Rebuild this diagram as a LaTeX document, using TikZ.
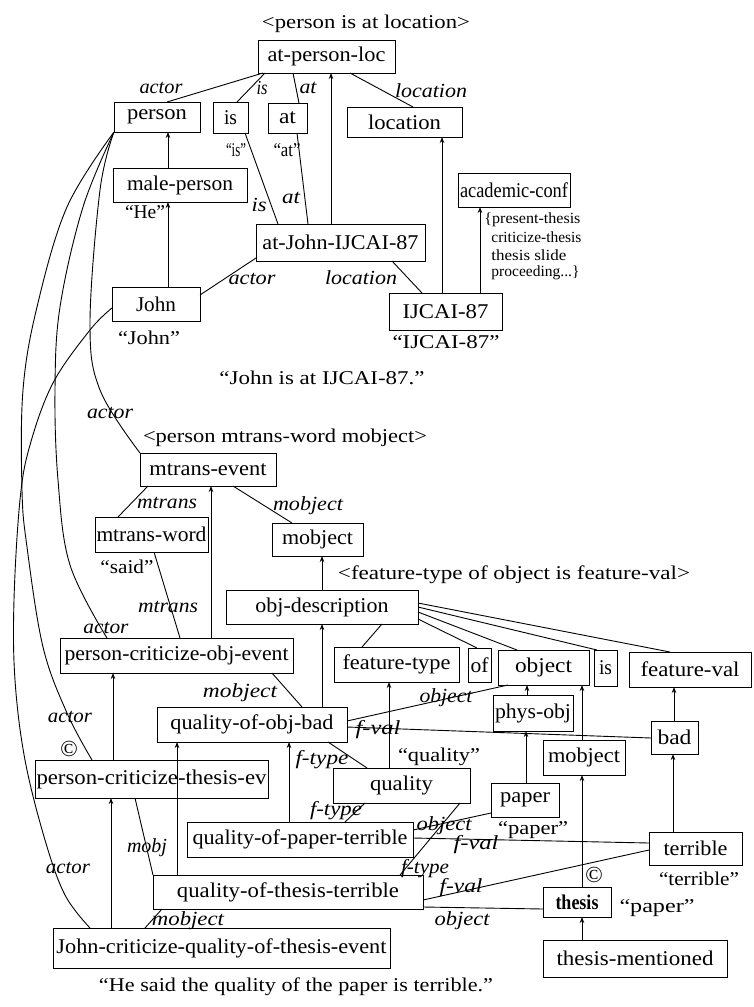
\documentclass[tikz,border=0pt]{standalone}
\usepackage{graphicx}
\usepackage{fontspec}
\setmainfont{Liberation Serif}
\usetikzlibrary{arrows.meta}
\newcommand\fitw[2]{\resizebox{#1pt}{\height}{#2}}
\begin{document}
\begin{tikzpicture}[x=1pt,y=-1pt,line width=0.9pt,
  bx/.style={draw,inner sep=0pt,outer sep=0pt,font=\fontsize{21}{24}\selectfont},
  lb/.style={inner sep=0pt,font=\fontsize{20}{23}\selectfont\itshape},
  qt/.style={inner sep=0pt,font=\fontsize{19.5}{22}\selectfont},
  sm/.style={inner sep=0pt,font=\fontsize{15.5}{17}\selectfont},
  cp/.style={inner sep=0pt,font=\fontsize{23}{25}\selectfont},
  ar/.style={-{Stealth[length=6pt,width=4.5pt]}},
  crv/.style={smooth,tension=0.6}]
\useasboundingbox (0,0) rectangle (753,1007);
% boxes
\node[bx,minimum width=137pt,minimum height=33pt] (apl) at (326.5,56.5) {\fitw{118}{at-person-loc}};
\node[bx,minimum width=86pt,minimum height=30pt] (person) at (157,117) {\fitw{60}{person}};
\node[bx,minimum width=35pt,minimum height=31pt] (isb) at (230.5,117.5) {\fitw{13}{is}};
\node[bx,minimum width=39pt,minimum height=30pt] (atb) at (287.5,118) {\fitw{17}{at}};
\node[bx,minimum width=115pt,minimum height=30pt] (loc) at (404.5,122) {\fitw{73}{location}};
\node[bx,minimum width=134pt,minimum height=34pt] (male) at (180,185) {\fitw{106}{male-person}};
\node[bx,minimum width=169pt,minimum height=37pt] (ajI) at (340.5,242.5) {\fitw{156}{at-John-IJCAI-87}};
\node[bx,minimum width=88pt,minimum height=34pt] (john) at (156,304) {\fitw{40}{John}};
\node[bx,minimum width=113pt,minimum height=37pt] (ijcai) at (445.5,311.5) {\fitw{86}{IJCAI-87}};
\node[bx,minimum width=112pt,minimum height=34pt] (acad) at (514,190) {\fitw{108}{academic-conf}};
\node[bx,minimum width=136pt,minimum height=33pt] (mte) at (208,469.5) {\fitw{117}{mtrans-event}};
\node[bx,minimum width=113pt,minimum height=35pt] (mtw) at (151.5,534.5) {\fitw{110}{mtrans-word}};
\node[bx,minimum width=91pt,minimum height=33pt] (mobja) at (317.5,539.5) {\fitw{71}{mobject}};
\node[bx,minimum width=192pt,minimum height=34pt] (objd) at (322,607) {\fitw{133}{obj-description}};
\node[bx,minimum width=233pt,minimum height=35pt] (pcoe) at (176.5,655.5) {\fitw{224}{person-criticize-obj-event}};
\node[bx,minimum width=125pt,minimum height=35pt] (ftype) at (396.5,664.5) {\fitw{108}{feature-type}};
\node[bx,minimum width=23pt,minimum height=34pt] (ofb) at (479.5,665) {\fitw{18}{of}};
\node[bx,minimum width=91pt,minimum height=35pt] (object) at (543.5,667.5) {\fitw{57}{object}};
\node[bx,minimum width=23pt,minimum height=36pt] (isc) at (605.5,668) {\fitw{13}{is}};
\node[bx,minimum width=122pt,minimum height=35pt] (fval) at (690,669.5) {\fitw{99}{feature-val}};
\node[bx,minimum width=190pt,minimum height=35pt] (qob) at (252,724.5) {\fitw{163}{quality-of-obj-bad}};
\node[bx,minimum width=80pt,minimum height=36pt] (phys) at (533,713) {\fitw{76}{phys-obj}};
\node[bx,minimum width=47pt,minimum height=33pt] (bad) at (674.5,737.5) {\fitw{34}{bad}};
\node[bx,minimum width=82pt,minimum height=35pt] (mobjb) at (584,757.5) {\fitw{72}{mobject}};
\node[bx,minimum width=233pt,minimum height=38pt] (pcte) at (151.5,779) {\fitw{230}{person-criticize-thesis-ev}};
\node[bx,minimum width=137pt,minimum height=35pt] (quality) at (401.5,785.5) {\fitw{63}{quality}};
\node[bx,minimum width=68pt,minimum height=34pt] (paper) at (525,800) {\fitw{50}{paper}};
\node[bx,minimum width=226pt,minimum height=35pt] (qopt) at (300,839.5) {\fitw{215}{quality-of-paper-terrible}};
\node[bx,minimum width=93pt,minimum height=33pt] (terrible) at (695.5,848.5) {\fitw{64}{terrible}};
\node[bx,minimum width=270pt,minimum height=34pt] (qott) at (288,892) {\fitw{222}{quality-of-thesis-terrible}};
\node[bx,minimum width=68pt,minimum height=30pt] (thesis) at (577,902) {\fitw{43}{\bfseries thesis}};
\node[bx,minimum width=184pt,minimum height=37pt] (tm) at (635,958.5) {\fitw{157}{thesis-mentioned}};
\node[bx,minimum width=337pt,minimum height=40pt] (jcq) at (221.5,948) {\fitw{330}{John-criticize-quality-of-thesis-event}};
% plain texts
\node[qt] (t1) at (366,24) {\fitw{208}{<person is at location>}};
\node[qt] (q1) at (236,150) {\fitw{20}{“is”}};
\node[qt] (q2) at (287,150) {\fitw{27}{“at”}};
\node[qt] (q3) at (145,212) {\fitw{40}{“He”}};
\node[qt] (q4) at (149,338) {\fitw{62}{“John”}};
\node[qt] (q5) at (446,342) {\fitw{107}{“IJCAI-87”}};
\node[qt] (t2) at (322,378) {\fitw{205}{“John is at IJCAI-87.”}};
\node[qt] (t3) at (285,438) {\fitw{284}{<person mtrans-word mobject>}};
\node[qt] (q6) at (127,567) {\fitw{53}{“said”}};
\node[qt] (t4) at (514,575) {\fitw{352}{<feature-type of object is feature-val>}};
\node[qt] (q7) at (439,757) {\fitw{82}{“quality”}};
\node[qt] (q8) at (533,830) {\fitw{70}{“paper”}};
\node[qt] (q9) at (699,879) {\fitw{80}{“terrible”}};
\node[qt] (q10) at (657,908) {\fitw{75}{“paper”}};
\node[cp] (c1) at (69,749) {©};
\node[cp] (c2) at (594,875) {©};
\node[qt] (t5) at (296,987) {\fitw{394}{“He said the quality of the paper is terrible.”}};
\node[sm,anchor=west] (al1) at (484,220) {\fitw{96}{\{present-thesis}};
\node[sm,anchor=west] (al2) at (491,237.5) {\fitw{90}{criticize-thesis}};
\node[sm,anchor=west] (al3) at (491,255) {\fitw{75}{thesis slide}};
\node[sm,anchor=west] (al4) at (491,272.5) {\fitw{88}{proceeding...\}}};
% edge labels
\node[lb] (lb1) at (161,88) {\fitw{43}{actor}};
\node[lb] (lb2) at (262,88) {\fitw{11}{is}};
\node[lb] (lb3) at (308,88) {\fitw{17}{at}};
\node[lb] (lb4) at (431,91) {\fitw{72}{location}};
\node[lb] (lb5) at (259,205) {\fitw{15}{is}};
\node[lb] (lb6) at (291,198) {\fitw{18}{at}};
\node[lb] (lb7) at (252,279) {\fitw{47}{actor}};
\node[lb] (lb8) at (361,278) {\fitw{72}{location}};
\node[lb] (lb9) at (110,413) {\fitw{46}{actor}};
\node[lb] (lb10) at (167,503) {\fitw{60}{mtrans}};
\node[lb] (lb11) at (308,506) {\fitw{70}{mobject}};
\node[lb] (lb12) at (168,607) {\fitw{60}{mtrans}};
\node[lb] (lb13) at (106,628) {\fitw{45}{actor}};
\node[lb] (lb14) at (240,693) {\fitw{74}{mobject}};
\node[lb] (lb15) at (70,717) {\fitw{44}{actor}};
\node[lb] (lb16) at (446,698) {\fitw{53}{object}};
\node[lb] (lb17) at (378,730) {\fitw{45}{f-val}};
\node[lb] (lb18) at (322,760) {\fitw{53}{f-type}};
\node[lb] (lb19) at (336,811) {\fitw{52}{f-type}};
\node[lb] (lb20) at (444,826) {\fitw{55}{object}};
\node[lb] (lb21) at (476,845) {\fitw{45}{f-val}};
\node[lb] (lb22) at (147,848) {\fitw{40}{mobj}};
\node[lb] (lb23) at (68,868) {\fitw{44}{actor}};
\node[lb] (lb24) at (425,869) {\fitw{48}{f-type}};
\node[lb] (lb25) at (461,888) {\fitw{43}{f-val}};
\node[lb] (lb26) at (462,921) {\fitw{55}{object}};
\node[lb] (lb27) at (188,921) {\fitw{72}{mobject}};
% plain edges
\draw ([xshift=5pt]apl.south west) -- ([xshift=53pt]person.north west);
\draw ([xshift=7pt]apl.south west) -- ([xshift=24pt]isb.north west);
\draw ([xshift=35pt]apl.south west) -- ([xshift=31pt]atb.north west);
\draw ([xshift=92pt]apl.south west) -- ([xshift=66pt]loc.north west);
\draw ([xshift=32pt]isb.south west) -- ([xshift=22pt]ajI.north west);
\draw ([xshift=29pt]atb.south west) -- ([xshift=52pt]ajI.north west);
\draw ([yshift=-34pt]ajI.north west) -- ([yshift=-8pt]john.north east);
\draw ([xshift=136pt]ajI.south west) -- ([xshift=33pt]ijcai.north west);
\draw ([xshift=8pt]mte.south west) -- ([xshift=23pt]mtw.north west);
\draw ([xshift=93pt]mte.south west) -- ([xshift=20pt]mobja.north west);
\draw ([xshift=59pt]mtw.south west) -- ([xshift=120pt]pcoe.north west);
\draw ([xshift=156pt]objd.south west) -- ([xshift=28pt]ftype.north west);
\draw ([yshift=-29pt]objd.north east) -- ([xshift=9pt]ofb.north west);
\draw ([yshift=-22pt]objd.north east) -- ([xshift=19pt]object.north west);
\draw ([yshift=-17pt]objd.north east) -- ([xshift=3pt]isc.north west);
\draw ([yshift=-13pt]objd.north east) -- ([xshift=41pt]fval.north west);
\draw ([xshift=212pt]pcoe.south west) -- ([xshift=145pt]qob.north west);
\draw ([yshift=-14pt]qob.north east) -- ([xshift=10pt]object.south west);
\draw ([yshift=-20pt]qob.north east) -- ([yshift=-17pt]bad.north west);
\draw ([xshift=171pt]qob.south west) -- ([xshift=34pt]quality.north west);
\draw ([xshift=100pt]pcte.south west) -- (qott.north west);
\draw ([xshift=32pt]quality.south west) -- ([xshift=158pt]qopt.north west);
\draw ([yshift=-8pt]qopt.north east) -- ([yshift=-30pt]paper.north west);
\draw ([yshift=-16pt]qopt.north east) -- ([yshift=-11pt]terrible.north west);
\draw ([xshift=127pt]quality.south west) -- ([xshift=247pt]qott.north west);
\draw ([yshift=-25pt]qott.north east) -- ([yshift=-18pt]terrible.north west);
\draw ([yshift=-32pt]qott.north east) -- ([yshift=-22pt]thesis.north west);
\draw ([xshift=92pt]jcq.north west) -- ([xshift=9pt]qott.south west);
% arrows
\draw[ar] ([xshift=75pt]ajI.north west) -- ([xshift=73pt]apl.south west);
\draw[ar] ([xshift=55pt]male.north west) -- ([xshift=54pt]person.south west);
\draw[ar] ([xshift=56pt]john.north west) -- ([xshift=55pt]male.south west);
\draw[ar] ([xshift=53pt]ijcai.north west) -- ([xshift=95pt]loc.south west);
\draw[ar] ([xshift=91pt]ijcai.north west) -- ([xshift=22pt]acad.south west);
\draw[ar] ([xshift=151pt]pcoe.north west) -- ([xshift=71pt]mte.south west);
\draw[ar] ([xshift=96pt]objd.north west) -- ([xshift=50pt]mobja.south west);
\draw[ar] ([xshift=165pt]qob.north west) -- ([xshift=96pt]objd.south west);
\draw[ar] ([xshift=78pt]pcte.north west) -- ([xshift=53pt]pcoe.south west);
\draw[ar] ([xshift=58pt]jcq.north west) -- ([xshift=76pt]pcte.south west);
\draw[ar] ([xshift=24pt]qott.north west) -- ([xshift=20pt]qob.south west);
\draw[ar] ([xshift=102pt]qopt.north west) -- ([xshift=132pt]qob.south west);
\draw[ar] ([xshift=56pt]quality.north west) -- ([xshift=55pt]ftype.south west);
\draw[ar] ([xshift=34pt]phys.north west) -- ([xshift=29pt]object.south west);
\draw[ar] ([xshift=39pt]mobjb.north west) -- ([xshift=84pt]object.south west);
\draw[ar] ([xshift=35pt]paper.north west) -- ([xshift=33pt]phys.south west);
\draw[ar] ([xshift=23pt]bad.north west) -- ([xshift=45pt]fval.south west);
\draw[ar] ([xshift=24pt]terrible.north west) -- ([xshift=22pt]bad.south west);
\draw[ar] ([xshift=39pt]thesis.north west) -- ([xshift=39pt]mobjb.south west);
\draw[ar] ([xshift=39pt]tm.north west) -- ([xshift=39pt]thesis.south west);
% curves
\draw plot[crv] coordinates {(person.south west) (100,190) (90,323) (100,390) (mte.north west)};
\draw plot[crv] coordinates {(person.south west) (83,207) (60,307) (55,390) (58,480) (70,565) ([xshift=47pt]pcoe.north west)};
\draw plot[crv] coordinates {(person.south west) (67,207) (37,307) (23,390) (22,490) (27,547) (43,647) (67,713) ([xshift=57pt]pcte.north west)};
\draw plot[crv] coordinates {([yshift=-21pt]john.north west) (90,330) (53,383) (30,445) (20,500) (14,600) (15,680) (25,760) (45,840) (65,895) ([xshift=37pt]jcq.north west)};
\end{tikzpicture}
\end{document}
